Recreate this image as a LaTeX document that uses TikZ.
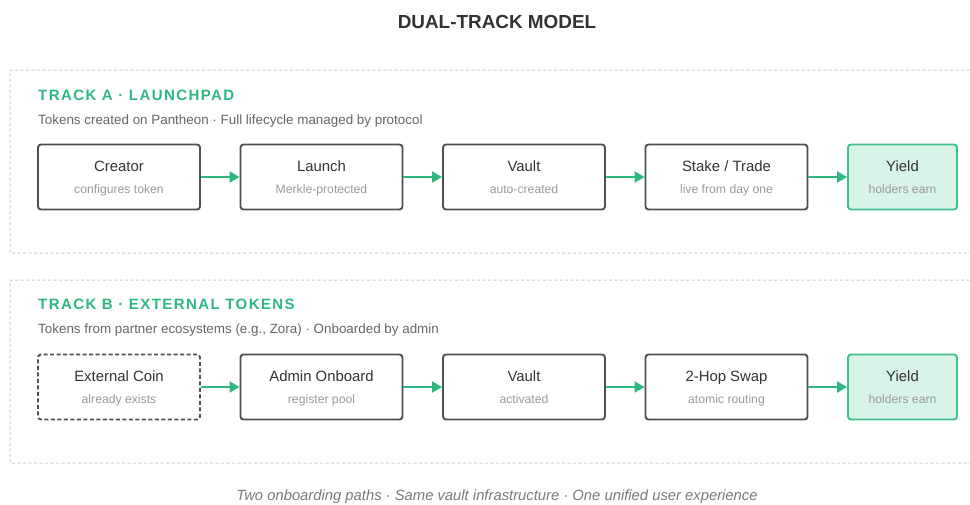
\documentclass[tikz,border=0pt]{standalone}
\usepackage{fontspec}
\setmainfont{Liberation Sans}
\usetikzlibrary{arrows.meta}
\definecolor{grn}{HTML}{2DB87F}
\definecolor{grnfill}{HTML}{D8F3E8}
\definecolor{grnborder}{HTML}{3FC08C}
\definecolor{boxline}{HTML}{505050}
\definecolor{txtdark}{HTML}{333333}
\definecolor{txtsub}{HTML}{9A9A9A}
\definecolor{txtdesc}{HTML}{666666}
\definecolor{txtfoot}{HTML}{7A7A7A}
\definecolor{dashc}{HTML}{CDCDCD}
\tikzset{
  stepbox/.style={draw=boxline, line width=1.9pt, rounded corners=3pt, minimum width=162pt, minimum height=65pt, inner sep=0pt, fill=white},
  yieldbox/.style={draw=grnborder, line width=1.9pt, rounded corners=3pt, minimum width=109pt, minimum height=65pt, inner sep=0pt, fill=grnfill},
  extbox/.style={stepbox, dash pattern=on 4pt off 2.5pt},
  track/.style={draw=dashc, line width=1pt, dash pattern=on 3pt off 2.5pt, rounded corners=3pt},
  flow/.style={draw=grn, line width=2pt, -{Triangle[length=10pt,width=11pt]}},
  ttl/.style={text=txtdark, font=\fontsize{14.9}{17}\selectfont, anchor=base, inner sep=0pt},
  sub/.style={text=txtsub, font=\fontsize{12.2}{14}\selectfont, anchor=base, inner sep=0pt},
  hdr/.style={text=grn, font=\bfseries\fontsize{15}{18}\selectfont\addfontfeatures{LetterSpace=9.5}, anchor=base west, inner sep=0pt},
  desc/.style={text=txtdesc, font=\fontsize{13.4}{16}\selectfont, anchor=base west, inner sep=0pt}
}
\newcommand{\stepnode}[5]{%
  \node[#1] (#2) at (#3) {};
  \node[ttl] at ([yshift=5.5pt]#2.center) {#4};
  \node[sub] at ([yshift=-16.5pt]#2.center) {#5};
}
\begin{document}
\begin{tikzpicture}[x=1pt,y=-1pt]
\useasboundingbox (0,0) rectangle (970,504);
\fill[white] (0,0) rectangle (970,504);
\node[text=txtdark, font=\bfseries\fontsize{18.9}{22}\selectfont] (title) at (497,22) {DUAL-TRACK MODEL};
% track containers
\draw[track] (975,70) -- (14,70) to[out=180,in=90] (10,74) -- (10,249) to[out=-90,in=180] (14,253) -- (975,253);
\draw[track] (975,280) -- (14,280) to[out=180,in=90] (10,284) -- (10,459) to[out=-90,in=180] (14,463) -- (975,463);
% Track A
\node[hdr] (ha) at (38,100.5) {TRACK A · LAUNCHPAD};
\node[desc] (da) at (38,124) {Tokens created on Pantheon · Full lifecycle managed by protocol};
\stepnode{stepbox}{a1}{119,177}{Creator}{configures token}
\stepnode{stepbox}{a2}{321.5,177}{Launch}{Merkle-protected}
\stepnode{stepbox}{a3}{524,177}{Vault}{auto-created}
\stepnode{stepbox}{a4}{726.5,177}{Stake / Trade}{live from day one}
\stepnode{yieldbox}{a5}{902.5,177}{Yield}{holders earn}
\draw[flow] (a1.east) -- (a2.west);
\draw[flow] (a2.east) -- (a3.west);
\draw[flow] (a3.east) -- (a4.west);
\draw[flow] (a4.east) -- (a5.west);
% Track B
\node[hdr] (hb) at (38,309.5) {TRACK B · EXTERNAL TOKENS};
\node[desc] (db) at (38,333) {Tokens from partner ecosystems (e.g., Zora) · Onboarded by admin};
\stepnode{extbox}{b1}{119,387}{External Coin}{already exists}
\stepnode{stepbox}{b2}{321.5,387}{Admin Onboard}{register pool}
\stepnode{stepbox}{b3}{524,387}{Vault}{activated}
\stepnode{stepbox}{b4}{726.5,387}{2-Hop Swap}{atomic routing}
\stepnode{yieldbox}{b5}{902.5,387}{Yield}{holders earn}
\draw[flow] (b1.east) -- (b2.west);
\draw[flow] (b2.east) -- (b3.west);
\draw[flow] (b3.east) -- (b4.west);
\draw[flow] (b4.east) -- (b5.west);
% footer
\node[text=txtfoot, font=\itshape\fontsize{14.8}{17}\selectfont] (foot) at (497,497) {Two onboarding paths · Same vault infrastructure · One unified user experience};
\end{tikzpicture}
\end{document}
